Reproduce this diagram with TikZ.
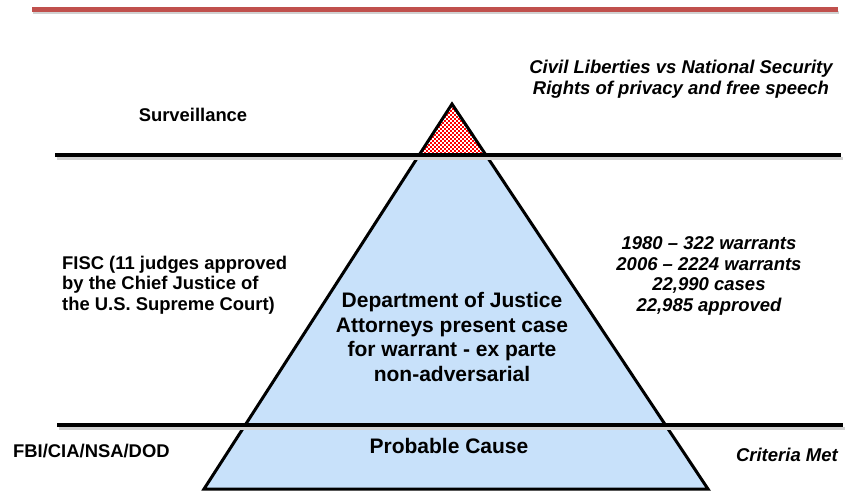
\documentclass[tikz,border=0pt]{standalone}
\usepackage{fontspec}
\setmainfont{Liberation Sans}
\definecolor{topred}{RGB}{192,80,77}
\definecolor{pyrblue}{RGB}{200,225,250}
\definecolor{checkred}{RGB}{255,0,0}
\tikzset{
  lbl/.style={font=\bfseries\fontsize{18.4}{20.5}\selectfont, inner sep=0pt},
  ilbl/.style={font=\bfseries\itshape\fontsize{18.5}{20.8}\selectfont, inner sep=0pt, align=center},
  big/.style={font=\bfseries\fontsize{21}{24.5}\selectfont, inner sep=0pt, align=center},
  hline/.style={line width=3.5pt, black},
  shadowline/.style={line width=3pt, black!18},
}
\begin{document}
\begin{tikzpicture}[x=1pt,y=-1pt]
\useasboundingbox (0,0) rectangle (846,491);
% coordinates of pyramid
\coordinate (apex) at (452,104);
\coordinate (bl) at (204,489);
\coordinate (br) at (708,489);
% red top rule
\draw[shadowline] (33,12.5) -- (839,12.5);
\draw[line width=4.5pt, topred] (32,9.5) -- (838,9.5);
% pyramid
\fill[pyrblue] (apex) -- (br) -- (bl) -- cycle;
\begin{scope}
  \clip (0,0) rectangle (846,155);
  \clip (apex) -- (br) -- (bl) -- cycle;
  \fill[white] (400,90) rectangle (500,160);
  \foreach \i in {0,...,34} {
    \foreach \j in {0,...,28} {
      \pgfmathtruncatemacro{\chk}{mod(\i+\j,2)}
      \ifnum\chk=0
        \fill[checkred] ({416+2*\i},{100+2*\j}) rectangle ++(2,2);
      \fi
    }
  }
\end{scope}
\draw[line width=3pt, line join=miter] (apex) -- (br) -- (bl) -- cycle;
% horizontal lines
\coordinate (l1a) at (55,155);
\coordinate (l1b) at (841,155);
\coordinate (l2a) at (57,425);
\coordinate (l2b) at (843,425);
\draw[shadowline] ([shift={(1.5,3)}]l1a) -- ([shift={(1.5,3)}]l1b);
\draw[shadowline] ([shift={(1.5,3)}]l2a) -- ([shift={(1.5,3)}]l2b);
\draw[hline] (l1a) -- (l1b);
\draw[hline] (l2a) -- (l2b);
% texts
\node[lbl] (surv) at (193,115) {Surveillance};
\node[ilbl] (civil) at (681,79) {Civil Liberties vs National Security\\Rights of privacy and free speech};
\node[lbl, anchor=west, align=left] (fisc) at (62,285) {FISC (11 judges approved\\by the Chief Justice of\\the U.S. Supreme Court)};
\node[ilbl] (stats) at (709,276) {1980 – 322 warrants\\2006 – 2224 warrants\\22,990 cases\\22,985 approved};
\node[big] (doj) at (452,337) {Department of Justice\\Attorneys present case\\for warrant - ex parte\\non-adversarial};
\node[big] (pc) at (449,446) {Probable Cause};
\node[lbl, anchor=west] (fbi) at (13,451) {FBI/CIA/NSA/DOD};
\node[ilbl, anchor=east] (crit) at (838,455) {Criteria Met};
\end{tikzpicture}
\end{document}
